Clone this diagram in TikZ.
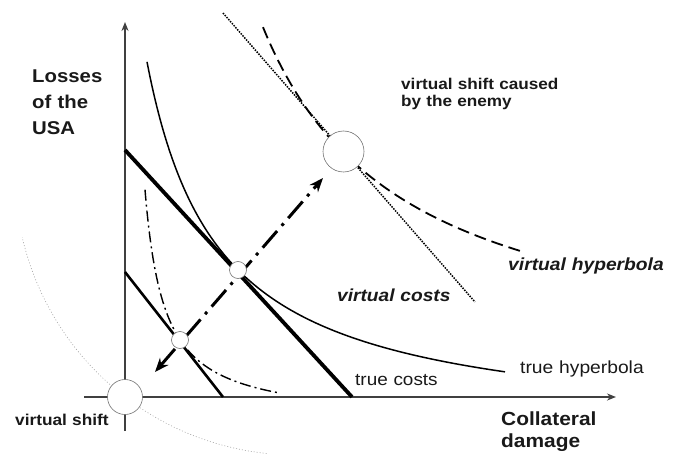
\documentclass[tikz,border=0pt]{standalone}
\usepackage{fontspec}
\setmainfont{Liberation Sans}[FakeStretch=1.1]
\usetikzlibrary{arrows.meta}
\begin{document}
\begin{tikzpicture}[x=1pt,y=-1pt,
  axis/.style={draw=black!75, line width=1.6pt},
  axtip/.style={-{Stealth[length=9pt,width=7pt]}},
  ring/.style={circle, draw=black!55, fill=white, line width=0.6pt, inner sep=0pt},
  lbl/.style={inner sep=0pt, anchor=base west, text=black!90, align=left, text width=200pt},
  bigarrow/.style={line width=3pt, dash pattern=on 22pt off 7pt on 3pt off 7pt,
    {Stealth[length=14pt,width=11pt]}-{Stealth[length=14pt,width=11pt]}},
  vhyp/.style={line width=1.8pt, dash pattern=on 12pt off 6pt},
  vcost/.style={line width=1.5pt, dash pattern=on 1.5pt off 1.2pt},
  shyp/.style={line width=1.4pt, dash pattern=on 11pt off 4pt on 2pt off 4pt},
  shiftarc/.style={draw=black!35, line width=0.6pt, dash pattern=on 1pt off 2pt}]
\useasboundingbox (0,0) rectangle (676,454);

% coordinates
\coordinate (yb) at (125,431);
\coordinate (yt) at (125,22);
\coordinate (xl) at (84,397);
\coordinate (xr) at (616,397);
\coordinate (tc1) at (125,150);
\coordinate (tc2) at (352,397);
\coordinate (sc1) at (125,272);
\coordinate (sc2) at (223,397);
\coordinate (vc1) at (223,13);
\coordinate (vc2) at (475,302);
\coordinate (arrL) at (155,372);
\coordinate (arrR) at (323,178);

% axes
\draw[axis,axtip] (yb) -- (yt);
\draw[axis,axtip] (xl) -- (xr);

% virtual shift arc
\draw[shiftarc] plot[domain=96:167, samples=90, smooth] ({296+281*cos(\x)},{174+281*sin(\x)});

% virtual costs (dotted)
\draw[vcost] (vc1) -- (vc2);

% virtual hyperbola (dashed)
\draw[vhyp] plot[domain=263:521, samples=120, smooth] (\x,{375-495.98/((\x-120.4)/100)});

% true hyperbola
\draw[line width=1.5pt] plot[domain=147:505, samples=150, smooth] (\x,{434-267.18/((\x-75.2)/100)});

% shifted hyperbola (dash-dot)
\draw[shyp] plot[domain=145:278, samples=250, smooth] (\x,{422-4460/(\x-125.8)});

% true costs and shifted costs
\draw[line width=3.8pt] (tc1) -- (tc2);
\draw[line width=2.6pt] (sc1) -- (sc2);

% shift arrow
\draw[bigarrow] (arrL) -- (arrR);

% circles
\node[ring, minimum size=35pt] (c0) at (125,397) {};
\node[ring, minimum size=17pt] (cA) at (180,340) {};
\node[ring, minimum size=17pt] (cB) at (238,270) {};
\node[ring, minimum size=41pt] (cV) at (343.5,151.5) {};

% labels
\node[lbl, font=\bfseries\fontsize{18.5}{26}\selectfont] (losses) at (32,82.7) {Losses\\of the\\USA};
\node[lbl, font=\bfseries\fontsize{15.6}{16.8}\selectfont] (enemy) at (401,90) {virtual shift caused\\by the enemy};
\node[lbl, font=\bfseries\itshape\fontsize{17.5}{20}\selectfont] (vhl) at (508,270) {virtual hyperbola};
\node[lbl, font=\bfseries\itshape\fontsize{17.4}{20}\selectfont] (vcl) at (337,301.7) {virtual costs};
\node[lbl, font=\fontsize{17.5}{20}\selectfont] (thl) at (520,373.3) {true hyperbola};
\node[lbl, font=\fontsize{17.2}{20}\selectfont] (tcl) at (355,385) {true costs};
\node[lbl, font=\bfseries\fontsize{19}{22}\selectfont] (cdl) at (501,425) {Collateral\\damage};
\node[lbl, font=\bfseries\fontsize{15.7}{18}\selectfont] (vsl) at (15,425) {virtual shift};
\end{tikzpicture}
\end{document}
